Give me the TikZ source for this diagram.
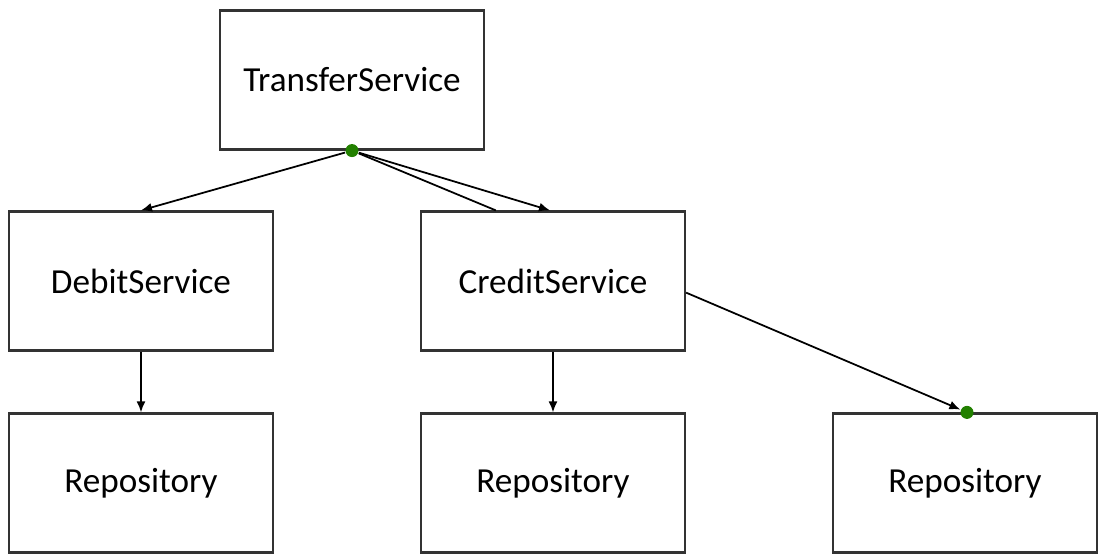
\documentclass[tikz,border=0pt]{standalone}
\usepackage{fontspec}
\setmainfont{Carlito}
\usetikzlibrary{arrows.meta}
\definecolor{dotgreen}{RGB}{34,128,0}
\begin{document}
\begin{tikzpicture}[x=0.01cm,y=-0.01cm,
    box/.style={draw=black!80, line width=0.6pt, minimum width=2.64cm, minimum height=1.39cm, inner sep=0pt, font=\fontsize{10}{12}\selectfont},
    dot/.style={circle, fill=dotgreen, inner sep=0pt, minimum size=0.13cm},
    arr/.style={line width=0.5pt, -{Latex[length=1.1mm,width=0.9mm]}}]
    \useasboundingbox (0,0) rectangle (1099,555);
    \node[box] (transfer) at (352,80) {TransferService};
    \node[box] (debit) at (141,281) {DebitService};
    \node[box] (credit) at (553,281) {CreditService};
    \node[box] (repoA) at (141,483) {Repository};
    \node[box] (repoB) at (553,483) {Repository};
    \node[box] (repoC) at (965,483) {Repository};
    \node[dot] (tdot) at (transfer.south) {};
    \node[dot] (rdot) at ([xshift=0.02cm]repoC.north) {};
    \draw[arr] (tdot) -- (debit.north);
    \draw[arr] (tdot) -- ([xshift=-0.03cm]credit.north);
    \draw[line width=0.5pt] (tdot) -- (credit.129);
    \foreach \a/\b in {debit/repoA,credit/repoB} \draw[arr] (\a) -- (\b);
    \draw[arr] (credit.-5) -- (rdot);
\end{tikzpicture}
\end{document}
